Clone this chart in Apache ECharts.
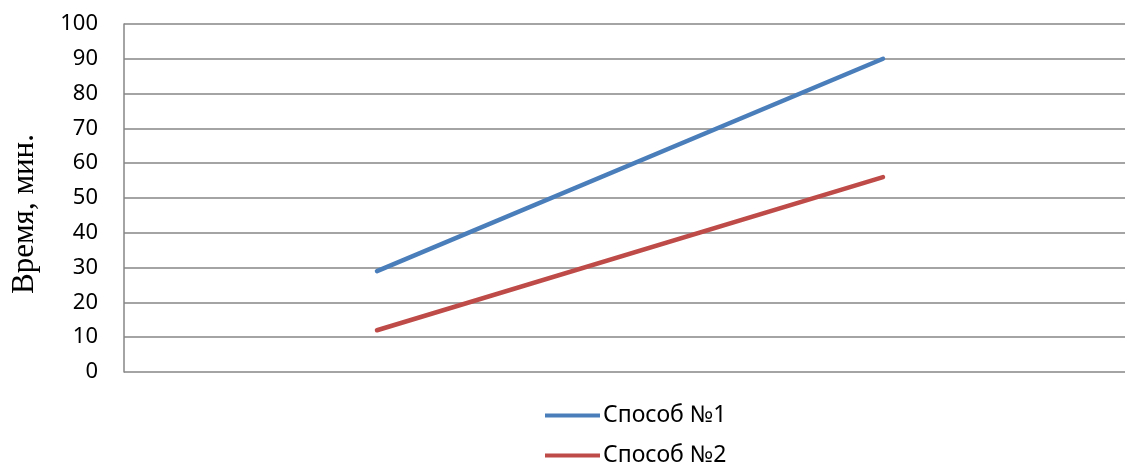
<!DOCTYPE html>
<html><head><meta charset="utf-8">
<script src="https://cdn.jsdelivr.net/npm/echarts@6/dist/echarts.min.js"></script>
<style>html,body{margin:0;padding:0;background:#fff}#c{width:1125px;height:463px}</style>
</head><body><div id="c"></div>
<script>
const categories = ['1', '2'];
const series1Name = 'Способ №1';
const series2Name = 'Способ №2';
const series1 = [29, 90];
const series2 = [12, 56];
const yTitle = 'Время, мин.';

const legendText = {fontFamily: '"Noto Sans", sans-serif', fontSize: 23, color: '#000', padding: [0,0,5,-2], lineHeight: 24};
const chart = echarts.init(document.getElementById('c'), null, {renderer: 'canvas'});
chart.setOption({
  animation: false,
  backgroundColor: '#fff',
  grid: {left: 124, top: 24, right: -11, bottom: 91, containLabel: false, outerBoundsMode: 'none'},
  xAxis: {
    type: 'category', data: categories, boundaryGap: true,
    axisLine: {show: false}, axisTick: {show: false}, axisLabel: {show: false}, splitLine: {show: false}
  },
  yAxis: {
    type: 'value', min: 0, max: 100, interval: 10,
    name: yTitle, nameLocation: 'middle', nameGap: 84, nameRotate: 90,
    nameTextStyle: {fontFamily: 'Liberation Serif', fontSize: 31, color: '#000', padding: [0, 32, 0, 0]},
    axisLine: {show: true, lineStyle: {color: '#868686', width: 1.5}},
    axisTick: {show: false},
    axisLabel: {fontFamily: '"Noto Sans", sans-serif', fontSize: 22, color: '#000', margin: 26},
    splitLine: {show: true, lineStyle: {color: '#868686', width: 1.5}}
  },
  legend: [
    {left: 545, top: 401, padding: 0, icon: 'rect', itemWidth: 55, itemHeight: 4, textStyle: legendText, data: [series1Name]},
    {left: 545, top: 441, padding: 0, icon: 'rect', itemWidth: 55, itemHeight: 4, textStyle: legendText, data: [series2Name]}
  ],
  series: [
    {name: series1Name, type: 'line', data: series1, symbol: 'none', lineStyle: {color: '#4a7ebb', width: 4.5, cap: 'round'}, itemStyle: {color: '#4a7ebb'}},
    {name: series2Name, type: 'line', data: series2, symbol: 'none', lineStyle: {color: '#be4b48', width: 4.5, cap: 'round'}, itemStyle: {color: '#be4b48'}}
  ]
});
</script></body></html>
